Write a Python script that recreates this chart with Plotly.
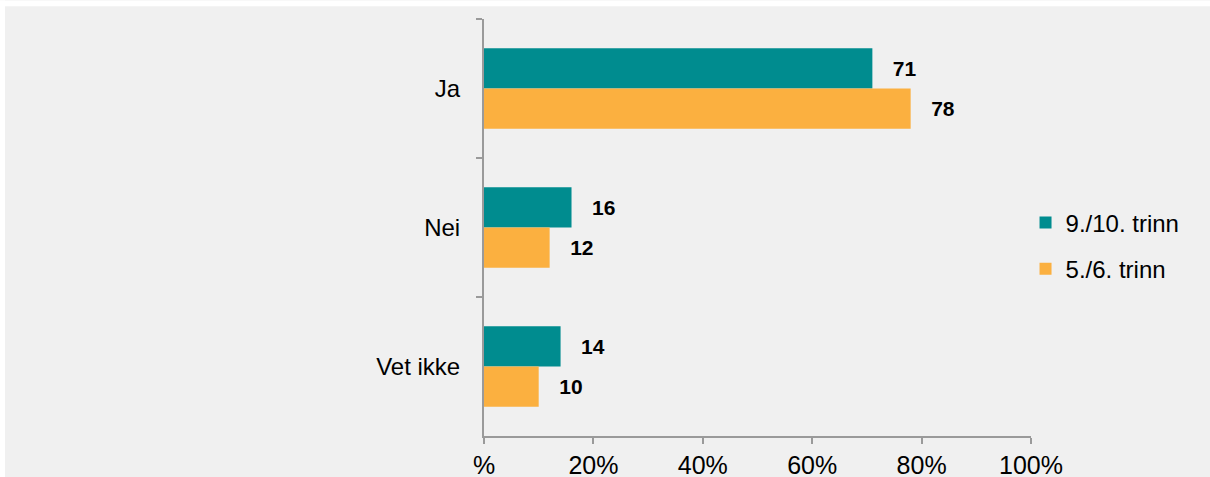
import plotly.graph_objects as go

# 카테고리 / 시리즈 값
categories = ['Ja', 'Nei', 'Vet ikke']
trinn_9_10 = [71, 16, 14]
trinn_5_6 = [78, 12, 10]
series_names = ['9./10. trinn', '5./6. trinn']
tick_vals = [0, 20, 40, 60, 80, 100]
tick_text = ['%', '20%', '40%', '60%', '80%', '100%']

teal = '#008c8f'
orange = '#fbb040'
bg = '#f0f0f0'
axis_col = '#9a9a9a'
font_family = 'Liberation Sans, Arial, sans-serif'

W, H = 1210, 491
fig = go.Figure()

for name, vals, col in [(series_names[0], trinn_9_10, teal),
                        (series_names[1], trinn_5_6, orange)]:
    fig.add_trace(go.Bar(
        y=categories, x=vals, name=name, orientation='h', legendgroup=name,
        marker=dict(color=col, line=dict(width=0)),
        text=vals, texttemplate='\u00a0\u00a0\u00a0%{x}', textposition='outside',
        textfont=dict(family=font_family, size=21, color='black', weight='bold'),
        cliponaxis=False,
    ))

fig.update_layout(
    width=W, height=H, autosize=False,
    margin=dict(l=484, r=179, t=19, b=43),
    paper_bgcolor=bg, plot_bgcolor=bg,
    barmode='group', bargap=0.42, bargroupgap=0,
    font=dict(family=font_family, size=24, color='black'),
    showlegend=True,
    legend=dict(x=0.99, y=0.456, xanchor='left', yanchor='middle',
                bgcolor='rgba(0,0,0,0)', font=dict(size=24),
                itemwidth=30, tracegroupgap=12),
    # 위쪽/왼쪽 흰 여백
    shapes=[
        dict(type='rect', xref='paper', yref='paper', x0=-484 / 547, x1=(1210 - 484) / 547,
             y0=1 + 13 / 429, y1=1 + 19 / 429, fillcolor='white', line_width=0, layer='below'),
        dict(type='rect', xref='paper', yref='paper', x0=-484 / 547, x1=-479 / 547,
             y0=-43 / 429, y1=1 + 19 / 429, fillcolor='white', line_width=0, layer='below'),
    ],
)

fig.update_xaxes(
    range=[0, 100], tickvals=tick_vals, ticktext=tick_text,
    showgrid=False, zeroline=False, showline=True, linecolor=axis_col, linewidth=2,
    ticks='outside', ticklen=6, tickwidth=2, tickcolor=axis_col,
    tickfont=dict(size=25),
)
fig.update_yaxes(
    autorange='reversed', showgrid=False, showline=True, linecolor=axis_col, linewidth=2,
    ticks='outside', tickson='boundaries', ticklen=6, tickwidth=2, tickcolor=axis_col,
    ticklabelstandoff=17, tickfont=dict(size=24),
)

# 페이지 여백 제거 (body 기본 margin 8px)
post = ("document.documentElement.style.overflow='hidden';"
        "document.body.style.margin='0';document.body.style.overflow='hidden';")

fig.write_html('out.html', config={'displayModeBar': False, 'responsive': False},
               post_script=post)
